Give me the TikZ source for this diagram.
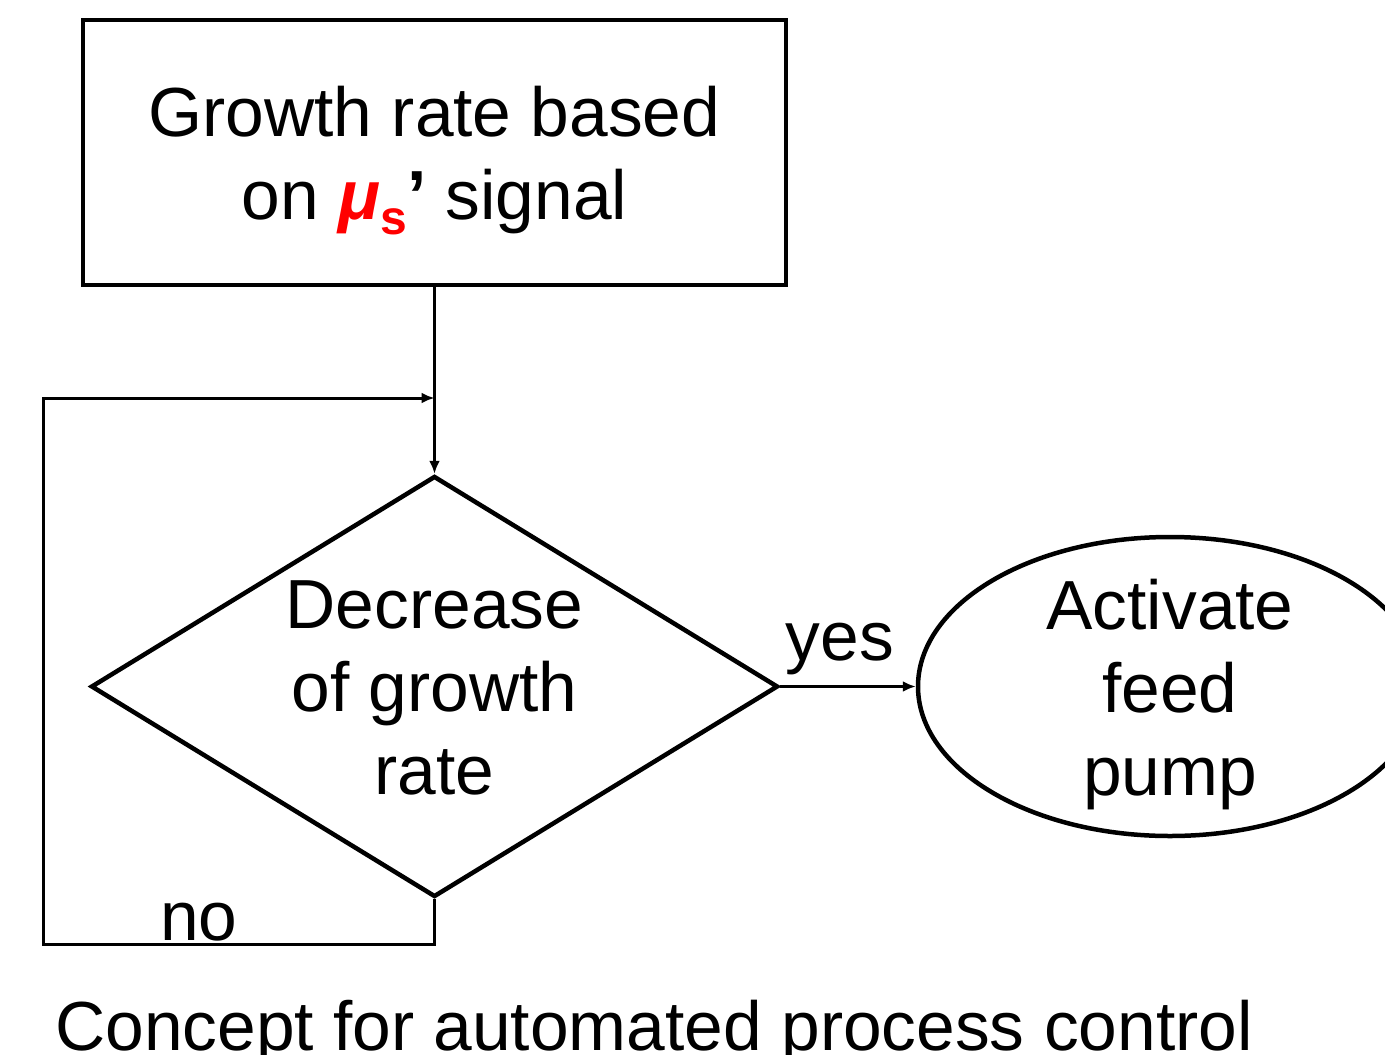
\documentclass[tikz,border=0pt]{standalone}
\usepackage{fontspec}
\setmainfont{Liberation Sans}
\usetikzlibrary{shapes.geometric,arrows.meta}
\begin{document}
\begin{tikzpicture}[x=1pt,y=-1pt,
  shapeline/.style={draw=black,line width=4.5pt,inner sep=0pt},
  txt/.style={align=center,inner sep=0pt,font=\fontsize{69.5}{83}\selectfont},
  arr/.style={line width=3pt,-{Latex[length=13pt,width=11pt]}},
  lbl/.style={font=\fontsize{69.5}{83}\selectfont,inner sep=0pt,anchor=base}]
\useasboundingbox (0,0) rectangle (1385,1055);
\node[shapeline,rectangle,minimum width=703pt,minimum height=265pt] (box) at (434.5,152.5) {};
\node[txt] (boxt) at (434.5,160.5)
  {Growth rate based\\on {\color{red}\bfseries\itshape μ\raisebox{-0.22em}{\upshape\fontsize{48}{48}\selectfont s}}{\bfseries’} signal};
\node[shapeline,diamond,minimum width=687pt,minimum height=421pt] (dec) at (434.5,686.5) {};
\node[txt] (dect) at (434.5,687.5) {Decrease\\of growth\\rate};
\node[shapeline,ellipse,minimum width=504pt,minimum height=299pt] (act) at (1170,686.5) {};
\node[txt] (actt) at (1170,695) {Activate\\feed\\pump};
\coordinate (nl) at (43,944);
\coordinate (join) at (434.5,398);
\draw[arr] (box.south) -- (dec.north);
\draw[arr] (dec.east) -- (act.west);
\draw[arr,line join=miter] (dec.south) |- (nl) |- (join);
\node[lbl] (yes) at (840,660) {yes};
\node[lbl] (no) at (199,940) {no};
\node[lbl,anchor=base west] (cap) at (55,1050) {Concept for automated process control};
\end{tikzpicture}
\end{document}
